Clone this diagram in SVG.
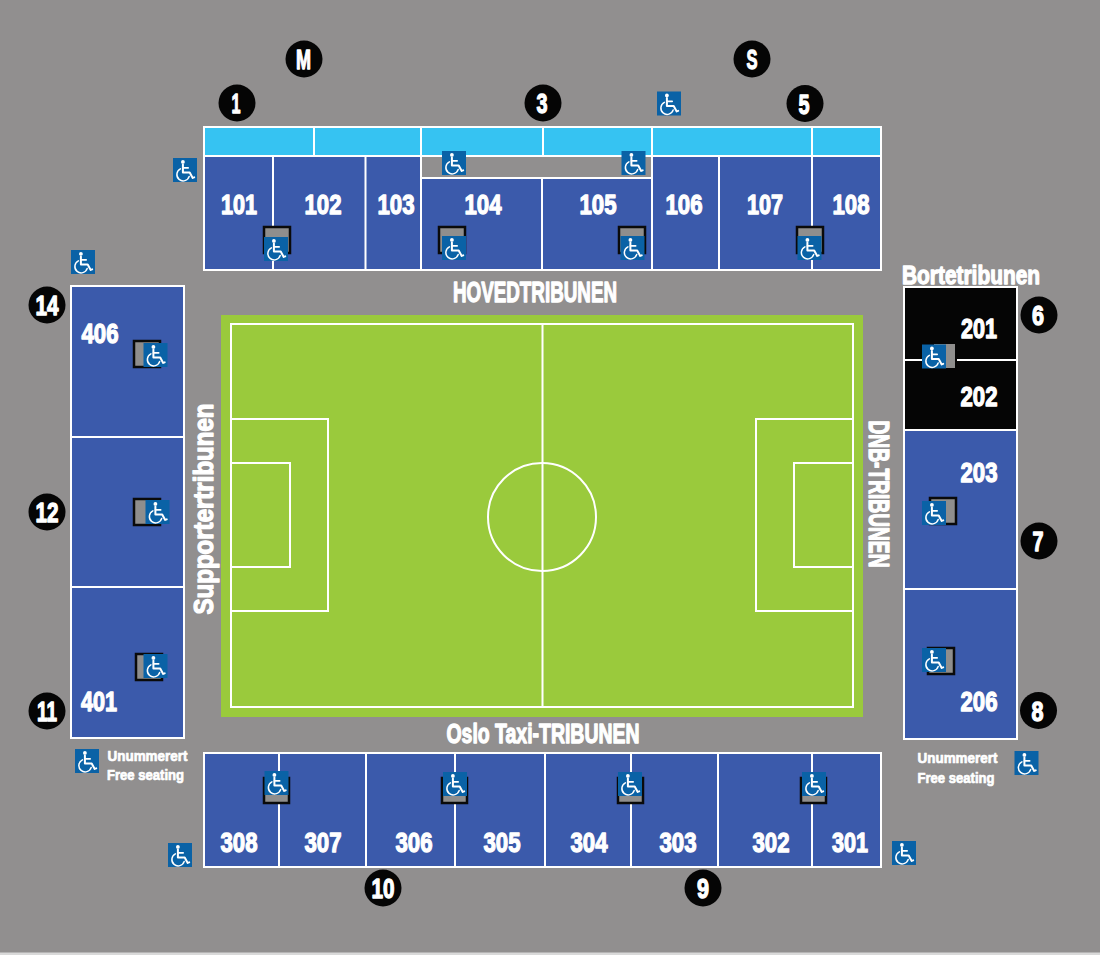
<svg xmlns="http://www.w3.org/2000/svg" width="1100" height="955" viewBox="0 0 1100 955">
<style>
.s{fill:#3b5aab;stroke:#fff;stroke-width:2}
.k{fill:#050505;stroke:#fff;stroke-width:2}
.c{fill:#36c3f2;stroke:#fff;stroke-width:2}
.l{stroke:#fff;stroke-width:2;fill:none}
.g{fill:#8f8e8d;stroke:#0a0a0a;stroke-width:2.500}
.t{font-family:"Liberation Sans",Arial,sans-serif;font-weight:700;fill:#fff;stroke:#fff;stroke-width:1.300;text-anchor:middle;stroke-linejoin:round}
.n{font-size:28px}
.h{font-size:29px}
.d{font-size:15px;stroke-width:.7}
.m{fill:#050505}
</style>
<defs>
<g id="wc">
<rect x="-12" y="-12" width="24" height="24" fill="#0a62a6"/>
<g fill="none" stroke="#fff" stroke-linecap="round" stroke-linejoin="round" transform="translate(-.8 -.6)">
<circle cx="-1.300" cy="-7.500" r="1.900" fill="#fff" stroke="none"/>
<path d="M-1.300 -5V3H5.500L8.500 8.500L10 8" stroke-width="2"/>
<path d="M-1.300 -1.500H4" stroke-width="1.600"/>
<path d="M-3.800 -.5A6.300 6.300 0 1 0 5 7" stroke-width="1.500"/>
</g>
</g>
</defs>
<rect width="1100" height="955" fill="#918f8f"/>
<rect y="952.500" width="1100" height="2.500" fill="#d9d9d9"/>
<g id="pitch">
<rect x="221" y="315" width="642" height="402" fill="#9aca3c"/>
<rect class="l" x="231" y="324" width="622" height="383"/>
<path class="l" d="M542.500 324V707M231 419H328V611H231M231 463H290V567H231M853 419H756V611H853M853 463H794V567H853"/>
<circle class="l" cx="542" cy="517" r="54"/>
</g>
<g id="stand-top">
<rect class="c" x="204" y="127" width="677" height="29"/>
<path class="l" d="M314 127V156M421 127V156M543 127V156M652 127V156M812 127V156"/>
<rect class="s" x="204" y="156" width="217" height="114"/>
<rect class="s" x="421" y="178" width="231" height="92"/>
<rect class="s" x="652" y="156" width="229" height="114"/>
<path class="l" d="M273 156V270M365.500 156V270M542 178V270M719 156V270M812 156V270"/>
</g>
<g id="stand-left">
<rect class="s" x="71" y="286" width="113" height="452"/>
<path class="l" d="M71 437H184M71 587H184"/>
</g>
<g id="stand-right">
<rect class="k" x="904" y="287" width="113" height="143"/>
<rect class="s" x="904" y="430" width="113" height="309"/>
<path class="l" d="M904 360H1017M904 589H1017"/>
</g>
<g id="stand-bottom">
<rect class="s" x="204" y="753" width="677" height="114"/>
<path class="l" d="M279 753V867M366 753V867M455 753V867M545 753V867M631 753V867M718 753V867M812 753V867"/>
</g>
<g id="access-boxes">
<rect class="g" x="264" y="227" width="26" height="26"/>
<rect class="g" x="439" y="227" width="26" height="26"/>
<rect class="g" x="619" y="227" width="26" height="26"/>
<rect class="g" x="797" y="227" width="26" height="26"/>
<rect class="g" x="134" y="341" width="26" height="26"/>
<rect class="g" x="134" y="499" width="26" height="26"/>
<rect class="g" x="136" y="654" width="26" height="26"/>
<rect x="925" y="344" width="32" height="24" fill="#050505"/>
<rect x="934" y="344" width="21" height="24" fill="#8f8e8d"/>
<rect class="g" x="930" y="498" width="26" height="26"/>
<rect class="g" x="928" y="648" width="26" height="26"/>
<rect class="g" x="264" y="778" width="25" height="25"/>
<rect class="g" x="442" y="778" width="25" height="25"/>
<rect class="g" x="618" y="778" width="25" height="25"/>
<rect class="g" x="801" y="778" width="25" height="25"/>
</g>
<g id="access-icons">
<use href="#wc" x="669" y="103.500"/><use href="#wc" x="185" y="170"/><use href="#wc" x="454" y="163"/><use href="#wc" x="633.500" y="163"/>
<use href="#wc" x="276" y="249"/><use href="#wc" x="454" y="248"/><use href="#wc" x="632.500" y="248"/><use href="#wc" x="809.500" y="248"/>
<use href="#wc" x="83" y="262"/><use href="#wc" x="155.500" y="355"/><use href="#wc" x="157.500" y="512"/><use href="#wc" x="155.500" y="666"/>
<use href="#wc" x="87" y="761"/><use href="#wc" x="1026.500" y="763"/><use href="#wc" x="934" y="356.500"/><use href="#wc" x="934" y="513"/><use href="#wc" x="934" y="660"/>
<use href="#wc" x="276.500" y="783"/><use href="#wc" x="455" y="784"/><use href="#wc" x="630" y="784"/><use href="#wc" x="814" y="784"/>
<use href="#wc" x="180" y="855"/><use href="#wc" x="904" y="853"/>
</g>
<g id="section-labels">
<text class="t n" textLength="36" lengthAdjust="spacingAndGlyphs" x="239" y="214">101</text><text class="t n" textLength="37" lengthAdjust="spacingAndGlyphs" x="323" y="214">102</text><text class="t n" textLength="37" lengthAdjust="spacingAndGlyphs" x="396" y="214">103</text><text class="t n" textLength="37" lengthAdjust="spacingAndGlyphs" x="483" y="214">104</text><text class="t n" textLength="37" lengthAdjust="spacingAndGlyphs" x="598" y="214">105</text><text class="t n" textLength="37" lengthAdjust="spacingAndGlyphs" x="684" y="214">106</text><text class="t n" textLength="36" lengthAdjust="spacingAndGlyphs" x="765" y="214">107</text><text class="t n" textLength="37" lengthAdjust="spacingAndGlyphs" x="851" y="214">108</text>
<text class="t n" textLength="37" lengthAdjust="spacingAndGlyphs" x="100" y="343">406</text><text class="t n" textLength="36" lengthAdjust="spacingAndGlyphs" x="99" y="711">401</text>
<text class="t n" textLength="36" lengthAdjust="spacingAndGlyphs" x="979" y="338">201</text><text class="t n" textLength="37" lengthAdjust="spacingAndGlyphs" x="979" y="406">202</text><text class="t n" textLength="37" lengthAdjust="spacingAndGlyphs" x="979" y="482">203</text><text class="t n" textLength="37" lengthAdjust="spacingAndGlyphs" x="979" y="711">206</text>
<text class="t n" textLength="37" lengthAdjust="spacingAndGlyphs" x="239" y="852">308</text><text class="t n" textLength="37" lengthAdjust="spacingAndGlyphs" x="323" y="852">307</text><text class="t n" textLength="37" lengthAdjust="spacingAndGlyphs" x="414" y="852">306</text><text class="t n" textLength="37" lengthAdjust="spacingAndGlyphs" x="502" y="852">305</text><text class="t n" textLength="37" lengthAdjust="spacingAndGlyphs" x="589" y="852">304</text><text class="t n" textLength="37" lengthAdjust="spacingAndGlyphs" x="678" y="852">303</text><text class="t n" textLength="37" lengthAdjust="spacingAndGlyphs" x="771" y="852">302</text><text class="t n" textLength="36" lengthAdjust="spacingAndGlyphs" x="850" y="852">301</text>
</g>
<g id="stand-labels">
<text class="t h" x="535" y="302" textLength="164" lengthAdjust="spacingAndGlyphs">HOVEDTRIBUNEN</text>
<text class="t" style="font-size:26px" x="971" y="283.500" textLength="138" lengthAdjust="spacingAndGlyphs">Bortetribunen</text>
<text class="t" style="font-size:27px" x="543" y="743" textLength="193" lengthAdjust="spacingAndGlyphs">Oslo Taxi-TRIBUNEN</text>
<text class="t" style="font-size:27px" transform="translate(213 509) rotate(-90)" textLength="211" lengthAdjust="spacingAndGlyphs">Supportertribunen</text>
<text class="t h" transform="translate(869 494) rotate(90)" textLength="147" lengthAdjust="spacingAndGlyphs">DNB-TRIBUNEN</text>
<text class="t d" x="147.500" y="760.500" textLength="80" lengthAdjust="spacingAndGlyphs">Unummerert</text><text class="t d" x="145.500" y="780" textLength="77" lengthAdjust="spacingAndGlyphs">Free seating</text>
<text class="t d" x="957.500" y="762.500" textLength="80" lengthAdjust="spacingAndGlyphs">Unummerert</text><text class="t d" x="956" y="782.500" textLength="77" lengthAdjust="spacingAndGlyphs">Free seating</text>
</g>
<g id="gates">
<g id="gate-M"><circle class="m" cx="304" cy="59" r="18.500"/><text class="t n" textLength="15" lengthAdjust="spacingAndGlyphs" x="303.500" y="69">M</text></g>
<g id="gate-S"><circle class="m" cx="752" cy="59" r="18.500"/><text class="t n" textLength="11" lengthAdjust="spacingAndGlyphs" x="752" y="69">S</text></g>
<g id="gate-1"><circle class="m" cx="237" cy="103" r="18.500"/><text class="t n" textLength="9" lengthAdjust="spacingAndGlyphs" x="236" y="113">1</text></g>
<g id="gate-3"><circle class="m" cx="543" cy="103" r="18.500"/><text class="t n" textLength="11" lengthAdjust="spacingAndGlyphs" x="542" y="113">3</text></g>
<g id="gate-5"><circle class="m" cx="805" cy="103.500" r="18.500"/><text class="t n" textLength="11" lengthAdjust="spacingAndGlyphs" x="804" y="113.500">5</text></g>
<g id="gate-6"><circle class="m" cx="1039" cy="315" r="18.500"/><text class="t n" textLength="12" lengthAdjust="spacingAndGlyphs" x="1038" y="325">6</text></g>
<g id="gate-7"><circle class="m" cx="1039" cy="541" r="18.500"/><text class="t n" textLength="11" lengthAdjust="spacingAndGlyphs" x="1038" y="551">7</text></g>
<g id="gate-8"><circle class="m" cx="1038.500" cy="710.500" r="18.500"/><text class="t n" textLength="12" lengthAdjust="spacingAndGlyphs" x="1037.500" y="720.500">8</text></g>
<g id="gate-9"><circle class="m" cx="703" cy="888" r="18.500"/><text class="t n" textLength="12" lengthAdjust="spacingAndGlyphs" x="703" y="898">9</text></g>
<g id="gate-10"><circle class="m" cx="383" cy="888" r="18.500"/><text class="t n" textLength="23" lengthAdjust="spacingAndGlyphs" x="383" y="898">10</text></g>
<g id="gate-11"><circle class="m" cx="47" cy="711" r="18.500"/><text class="t n" textLength="20" lengthAdjust="spacingAndGlyphs" x="47" y="721">11</text></g>
<g id="gate-12"><circle class="m" cx="47" cy="512" r="18.500"/><text class="t n" textLength="23" lengthAdjust="spacingAndGlyphs" x="47" y="522">12</text></g>
<g id="gate-14"><circle class="m" cx="47" cy="305" r="18.500"/><text class="t n" textLength="23" lengthAdjust="spacingAndGlyphs" x="47" y="315">14</text></g>
</g>
</svg>
